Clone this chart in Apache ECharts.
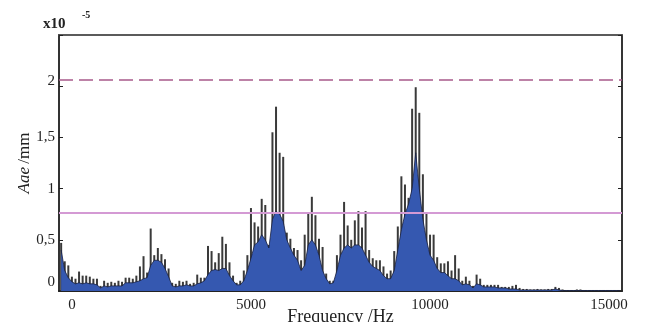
<!DOCTYPE html>
<html>
<head>
<meta charset="utf-8">
<script src="https://cdn.jsdelivr.net/npm/echarts@6/dist/echarts.min.js"></script>
<style>
  html, body { margin: 0; padding: 0; background: #fff; }
  #chart { width: 649px; height: 322px; }
</style>
</head>
<body>
<div id="chart"></div>
<script>
// frequency grid (Hz)
const freqHz = [
  -300, -200, -100, 0, 100, 200, 300, 400, 500, 600,
  700, 800, 900, 1000, 1100, 1200, 1300, 1400, 1500, 1600,
  1700, 1800, 1900, 2000, 2100, 2200, 2300, 2400, 2500, 2600,
  2700, 2800, 2900, 3000, 3100, 3200, 3300, 3400, 3500, 3600,
  3700, 3800, 3900, 4000, 4100, 4200, 4300, 4400, 4500, 4600,
  4700, 4800, 4900, 5000, 5100, 5200, 5300, 5400, 5500, 5600,
  5700, 5800, 5900, 6000, 6100, 6200, 6300, 6400, 6500, 6600,
  6700, 6800, 6900, 7000, 7100, 7200, 7300, 7400, 7500, 7600,
  7700, 7800, 7900, 8000, 8100, 8200, 8300, 8400, 8500, 8600,
  8700, 8800, 8900, 9000, 9100, 9200, 9300, 9400, 9500, 9600,
  9700, 9800, 9900, 10000, 10100, 10200, 10300, 10400, 10500, 10600,
  10700, 10800, 10900, 11000, 11100, 11200, 11300, 11400, 11500, 11600,
  11700, 11800, 11900, 12000, 12100, 12200, 12300, 12400, 12500, 12600,
  12700, 12800, 12900, 13000, 13100, 13200, 13300, 13400, 13500, 13600,
  13700, 13800, 13900, 14000, 14100, 14200, 14300, 14400, 14500, 14600,
  14700, 14800, 14900, 15000, 15100, 15200, 15300
];

// spectrum peaks (x1e-5 mm)
const peakAmp = [
  .47, .29, .25, .14, .12, .19, .15, .15, .14, .12,
  .12, .05, .10, .08, .09, .08, .10, .09, .13, .13,
  .12, .15, .24, .34, .18, .61, .35, .42, .36, .31,
  .22, .08, .07, .10, .09, .10, .07, .08, .16, .13,
  .13, .44, .39, .28, .37, .53, .46, .28, .15, .08,
  .10, .20, .35, .81, .67, .63, .90, .84, .45, 1.55,
  1.80, 1.35, 1.31, .57, .51, .42, .40, .30, .55, .77,
  .92, .74, .51, .43, .17, .10, .10, .35, .55, .87,
  .64, .50, .69, .78, .62, .78, .40, .32, .30, .30,
  .24, .17, .20, .39, .63, 1.12, 1.04, .91, 1.78, 1.99,
  1.74, 1.14, .76, .55, .55, .33, .27, .27, .29, .20,
  .35, .22, .10, .14, .10, .05, .16, .12, .06, .06,
  .06, .06, .06, .04, .04, .04, .05, .06, .03, .02,
  .02, .015, .015, .02, .015, .015, .02, .02, .04, .03,
  .015, .01, .01, .01, .015, .015, .01, .01, .01, .01,
  .01, .005, .005, .005, .005, .005, .005
];

// filled envelope (x1e-5 mm)
const envAmp = [
  .40, .20, .13, .09, .07, .08, .07, .08, .07, .07,
  .06, .03, .05, .04, .05, .05, .05, .05, .08, .08,
  .08, .09, .10, .12, .13, .25, .30, .30, .28, .22,
  .14, .05, .04, .05, .05, .06, .05, .05, .07, .08,
  .10, .16, .20, .21, .20, .22, .22, .15, .10, .06,
  .06, .10, .20, .32, .45, .48, .55, .50, .42, .70,
  .78, .75, .68, .50, .42, .35, .30, .20, .25, .45,
  .50, .45, .35, .20, .12, .07, .08, .20, .35, .42,
  .45, .42, .45, .45, .42, .35, .28, .24, .22, .20,
  .15, .12, .12, .20, .40, .60, .75, .85, 1.00, 1.35,
  1.00, .70, .50, .35, .30, .22, .18, .18, .15, .12,
  .12, .10, .06, .07, .06, .03, .07, .06, .04, .04,
  .04, .04, .03, .03, .03, .02, .02, .02, .01, .01,
  .01, .01, .01, .01, .01, .01, .01, .01, .02, .01,
  .005, .005, .005, .005, .005, .005, .005, .005, .005, .005,
  .005, .005, .005, .005, .005, .005, .005
];

const xTickValues = [0, 5000, 10000, 15000];
const yTickValues = [0, 0.5, 1, 1.5, 2, 2.5];
const dashedLevel = 2.06;
const solidLevel = 0.755;

const serif = "Liberation Serif";
const chart = echarts.init(document.getElementById("chart"));

chart.setOption({
  animation: false,
  grid: {
    left: 59, right: 27, top: 35, bottom: 31,
    outerBoundsMode: "none",
    show: true,
    borderColor: "#444",
    borderWidth: 1.5
  },
  graphic: [
    { type: "text", left: 43, top: 17, style: { text: "x10", font: "bold 15px " + serif, fill: "#222" } },
    { type: "text", left: 82, top: 10, style: { text: "-5", font: "bold 10px " + serif, fill: "#222" } }
  ],
  xAxis: [
    {
      type: "value",
      min: -360,
      max: 15360,
      name: "Frequency /Hz",
      nameLocation: "middle",
      nameGap: 17,
      nameMoveOverlap: false,
      nameTextStyle: { fontFamily: serif, fontSize: 18, color: "#222", verticalAlign: "top" },
      axisLine: { show: true, onZero: false, lineStyle: { color: "#222", width: 2 } },
      axisTick: { show: false },
      splitLine: { show: false },
      axisLabel: {
        customValues: xTickValues,
        formatter: (v) => String(v),
        fontFamily: serif, fontSize: 15, color: "#222", margin: 7
      }
    },
    {
      type: "value",
      position: "top",
      min: -360,
      max: 15360,
      axisLine: { show: true, onZero: false, lineStyle: { color: "#555", width: 1.5 } },
      axisTick: { show: false },
      axisLabel: { show: false },
      splitLine: { show: false }
    }
  ],
  yAxis: [
    {
      type: "value",
      min: 0,
      max: 2.5,
      interval: 0.5,
      name: "{i|Aae} {n|/mm}",
      nameLocation: "middle",
      nameGap: 26,
      nameMoveOverlap: false,
      nameTextStyle: {
        rich: {
          i: { fontFamily: serif, fontSize: 17, fontStyle: "italic", color: "#222" },
          n: { fontFamily: serif, fontSize: 17, color: "#222" }
        }
      },
      axisLine: { show: true, onZero: false, lineStyle: { color: "#333", width: 2 } },
      axisTick: { show: true, inside: true, length: 4, lineStyle: { color: "#222" }, customValues: yTickValues },
      splitLine: { show: false },
      axisLabel: {
        fontFamily: serif, fontSize: 15, color: "#222", margin: 4,
        formatter: (v) => {
          if (v === 0) return "{lo|0}";
          if (v === 2) return "{md|2}";
          if (v === 2.5) return "";
          return String(v).replace(".", ",");
        },
        rich: {
          lo: { fontFamily: serif, fontSize: 15, color: "#222", padding: [0, 0, 18, 0] },
          md: { fontFamily: serif, fontSize: 15, color: "#222", padding: [0, 0, 10, 0] }
        }
      }
    },
    {
      type: "value",
      position: "right",
      min: 0,
      max: 2.5,
      interval: 0.5,
      axisLine: { show: true, onZero: false, lineStyle: { color: "#222", width: 1.5 } },
      axisTick: { show: true, inside: true, length: 4, lineStyle: { color: "#222" } },
      axisLabel: { show: false },
      splitLine: { show: false }
    }
  ],
  series: [
    {
      name: "peaks",
      type: "bar",
      z: 2,
      barWidth: 2,
      itemStyle: { color: "#3a3a3a" },
      data: freqHz.map((f, i) => [f, peakAmp[i]])
    },
    {
      name: "envelope",
      type: "line",
      z: 3,
      symbol: "none",
      lineStyle: { color: "#1b213d", width: 0.8 },
      areaStyle: { color: "#3558b0", opacity: 1 },
      data: freqHz.map((f, i) => [f, envAmp[i]]),
      markLine: {
        silent: true,
        symbol: "none",
        label: { show: false },
        data: [
          { yAxis: dashedLevel, lineStyle: { color: "#a85a8a", width: 1.5, type: [14, 6] } },
          { yAxis: solidLevel, lineStyle: { color: "#d49ad4", width: 2, type: "solid" } }
        ]
      }
    },
    {
      name: "frame",
      type: "line",
      xAxisIndex: 1,
      yAxisIndex: 1,
      data: []
    }
  ]
});
</script>
</body>
</html>
